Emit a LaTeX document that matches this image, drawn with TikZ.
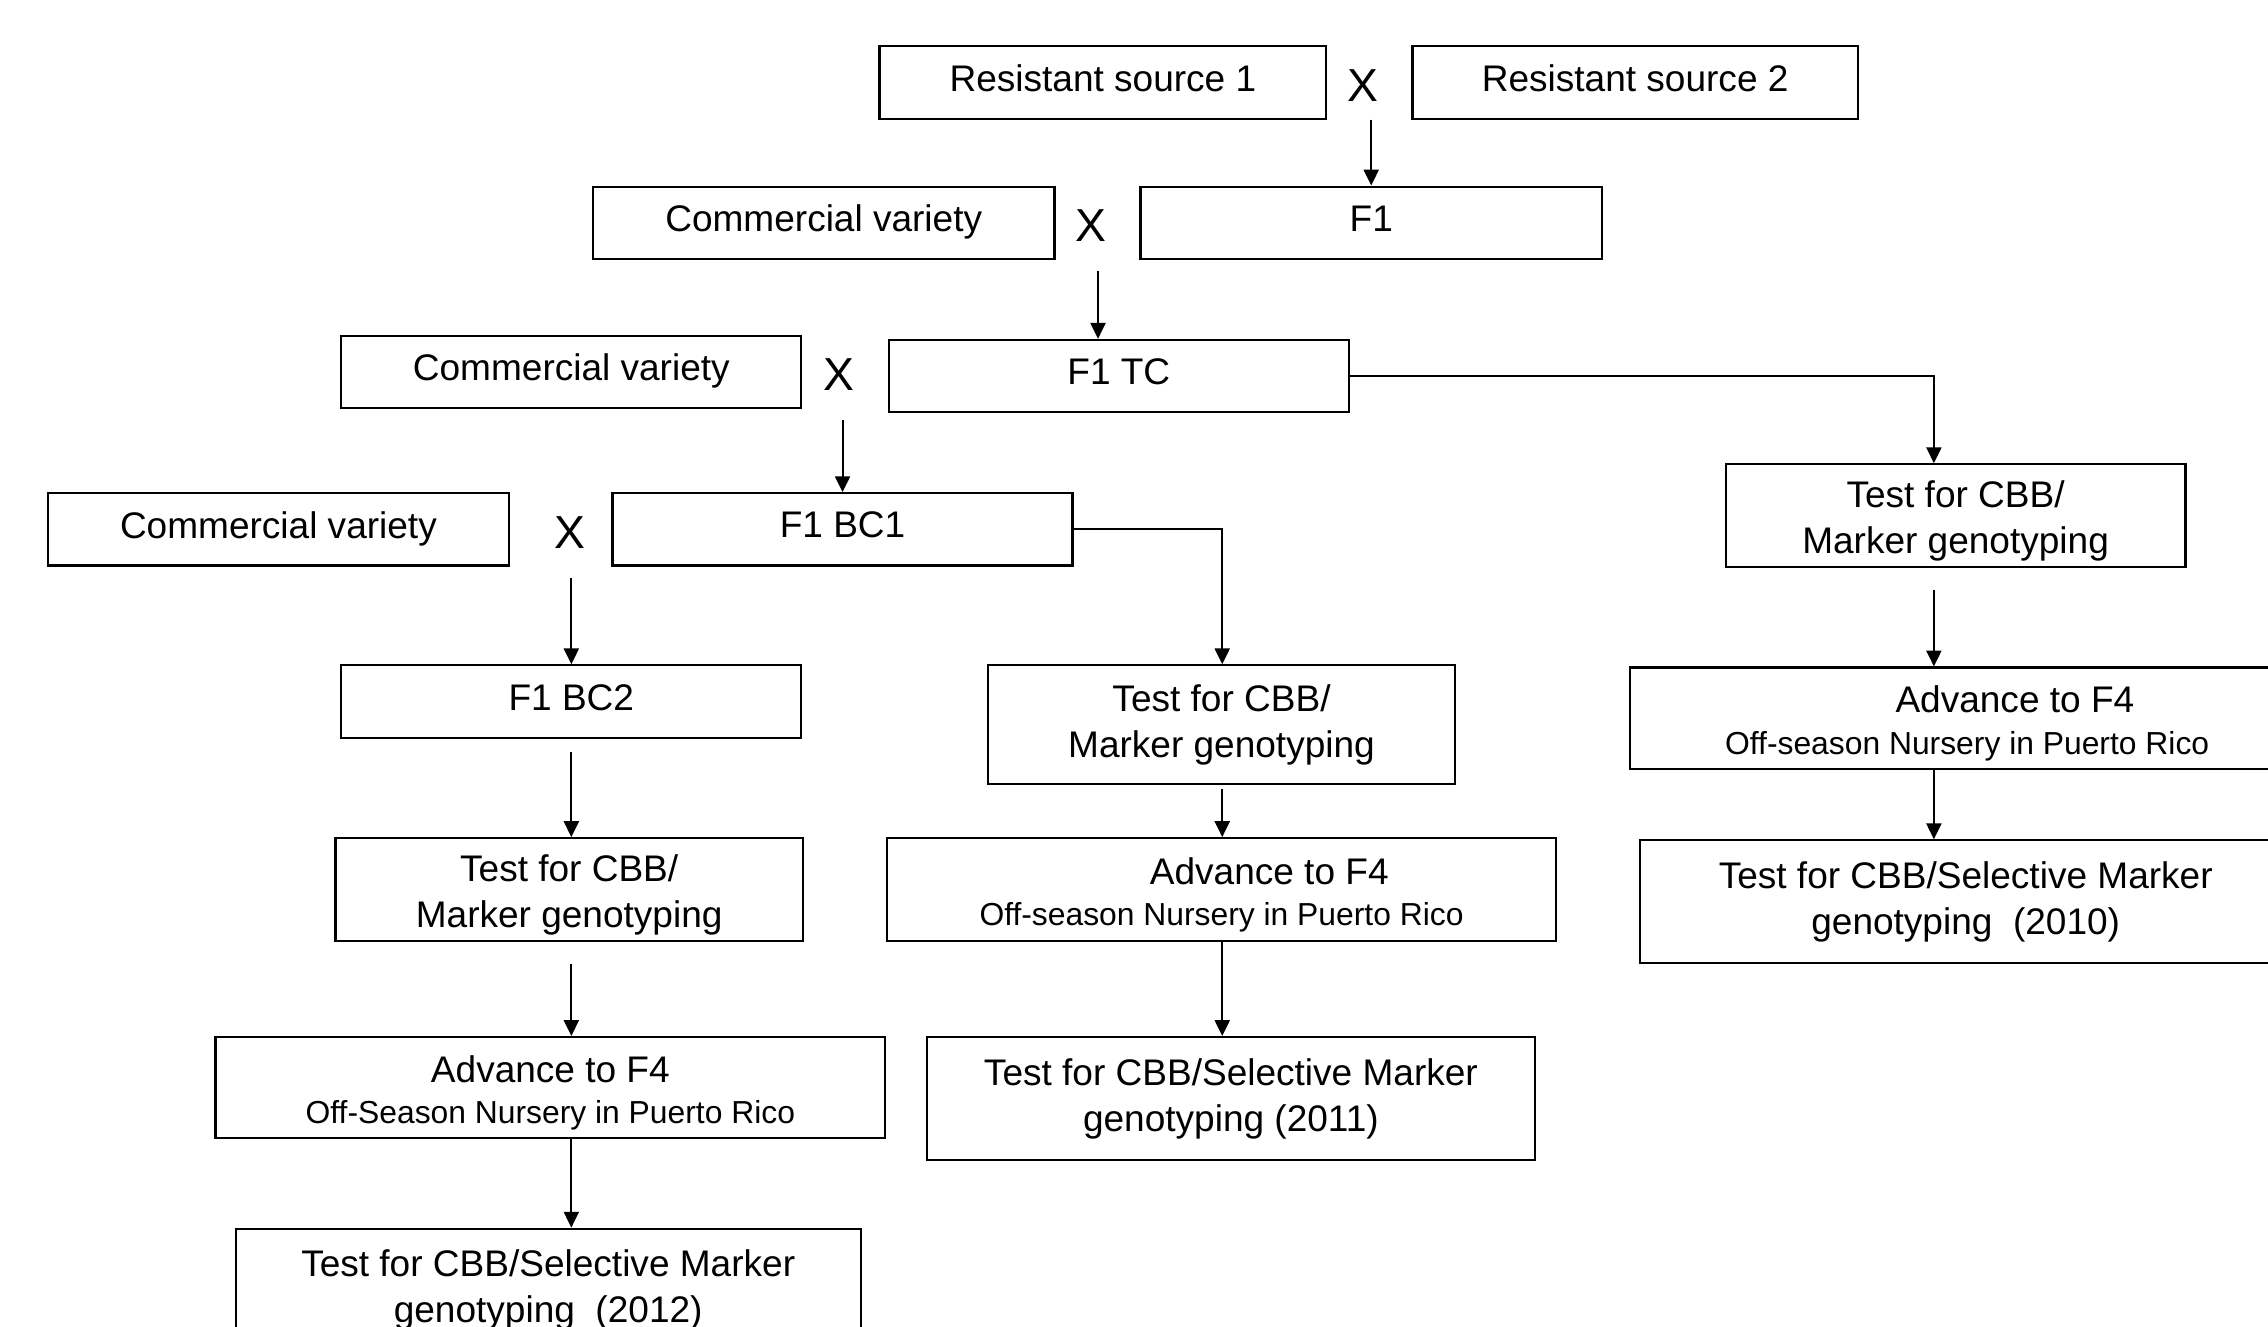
\documentclass[tikz,border=0pt]{standalone}
\usepackage{fontspec}
\setmainfont{Liberation Sans}
\usepackage{tikz}
\usetikzlibrary{
  arrows.meta,
  positioning
}
\newcommand{\boxfont}{\fontsize{12.8}{16}\selectfont}
\newcommand{\notefont}{\fontsize{11}{13.6}\selectfont}
\newcommand{\crossfont}{\fontsize{16}{19}\selectfont}
\newcommand{\topgap}{\rule{0pt}{13pt}}

\begin{document}
\begin{tikzpicture}[
  x=0.5pt, y=-0.5pt,
  block/.style={draw, line width=0.75pt, minimum height=25pt, inner sep=0pt,
                align=center, font=\boxfont},
  lineblock/.style={block, text depth=3pt},
  xsign/.style={inner sep=0pt, font=\crossfont, yshift=-1pt},
  arr/.style={-{Triangle[length=5.5pt,width=5.2pt]}, line width=0.7pt}
]
  \useasboundingbox (0,0) rectangle (1568,917);

  % Resistant sources
  \node[lineblock, minimum width=154.5pt] (rs1) at (762.5,57) {Resistant source 1};
  \node[xsign, right=6.75pt of rs1] (x1) {X};
  \node[lineblock, minimum width=154pt, right=29pt of rs1] (rs2) {Resistant source 2};

  % Crosses with commercial varieties
  \node[lineblock, minimum width=159.5pt] (cv1) at (569.5,154) {Commercial variety};
  \node[xsign, right=6.75pt of cv1] (x2) {X};
  \node[lineblock, minimum width=159.5pt, right=29pt of cv1] (f1) {F1};

  \node[lineblock, minimum width=159pt] (cv2) at (395,257) {Commercial variety};
  \node[xsign, right=7pt of cv2] (x3) {X};
  \node[lineblock, minimum width=159pt, right=29.5pt of cv2, yshift=-1.5pt] (f1tc) {F1 TC};

  \node[lineblock, minimum width=159.5pt] (cv3) at (192.5,366) {Commercial variety};
  \node[xsign, right=15pt of cv3] (x4) {X};
  \node[lineblock, minimum width=159pt, right=35pt of cv3] (f1bc1) {F1 BC1};

  % Left column
  \node[lineblock, minimum width=159pt] (f1bc2) at (395,485) {F1 BC2};
  \node[block, minimum width=161.5pt, minimum height=35.5pt, below=34pt of f1bc2, xshift=-0.75pt] (testl1)
    {\topgap Test for CBB/\\Marker genotyping};
  \node[block, minimum width=231.5pt, minimum height=35pt, below=32.5pt of testl1, xshift=-6.5pt] (advl)
    {\topgap Advance to F4\\[-1.7pt]{\notefont Off-Season Nursery in Puerto Rico}};
  \node[block, minimum width=216pt, minimum height=42.5pt, below=30.5pt of advl, xshift=-0.75pt] (testl2)
    {Test for CBB/Selective Marker\\genotyping~ (2012)};

  % Middle column
  \node[block, minimum width=161.5pt, minimum height=41pt] (testm1) at (844.5,501)
    {Test for CBB/\\Marker genotyping};
  \node[block, minimum width=231.5pt, minimum height=35.5pt, below=18pt of testm1] (advm)
    {\topgap\hspace*{33pt}Advance to F4\\[-1.7pt]{\notefont Off-season Nursery in Puerto Rico}};
  \node[block, minimum width=210pt, minimum height=42.5pt, below=32.5pt of advm, xshift=3.25pt] (testm2)
    {Test for CBB/Selective Marker\\genotyping (2011)};

  % Right column
  \node[block, minimum width=159pt, minimum height=35.5pt] (testr1) at (1352,356.5)
    {\topgap Test for CBB/\\Marker genotyping};
  \node[block, minimum width=233pt, minimum height=35pt, below=34pt of testr1, xshift=4pt] (advr)
    {\topgap\hspace*{33pt}Advance to F4\\[-1.7pt]{\notefont Off-season Nursery in Puerto Rico}};
  \node[block, minimum width=225pt, minimum height=42.5pt, below=24pt of advr, xshift=-0.5pt] (testr2)
    {Test for CBB/Selective Marker\\genotyping~ (2010)};

  \coordinate (mcol) at (845,0);
  \coordinate (rcol) at (1337,0);

  % Crossing arrows
  \draw[arr] (f1.north |- rs1.south) -- (f1.north);
  \draw[arr, shorten <=10pt] ([xshift=2.4pt]x2.south) -- ([xshift=2.4pt]x2.south |- f1tc.north);
  \draw[arr, shorten <=10pt] (f1bc1.north |- x3.south) -- (f1bc1.north);
  \draw[arr, shorten <=10pt] (f1bc2.north |- x4.south) -- (f1bc2.north);

  % Branches
  \draw[arr] (f1tc.east) -| (rcol |- testr1.north);
  \draw[arr] (f1bc1.east) -| (mcol |- testm1.north);

  \draw[arr, shorten <=4.5pt] (f1bc2.south) -- (f1bc2.south |- testl1.north);
  \draw[arr, shorten <=7.5pt] (f1bc2.south |- testl1.south) -- (f1bc2.south |- advl.north);
  \draw[arr] (f1bc2.south |- advl.south) -- (f1bc2.south |- testl2.north);

  \draw[arr, shorten <=1.5pt] (mcol |- testm1.south) -- (mcol |- advm.north);
  \draw[arr] (mcol |- advm.south) -- (mcol |- testm2.north);

  \draw[arr, shorten <=7.5pt] (rcol |- testr1.south) -- (rcol |- advr.north);
  \draw[arr] (rcol |- advr.south) -- (rcol |- testr2.north);
\end{tikzpicture}
\end{document}
